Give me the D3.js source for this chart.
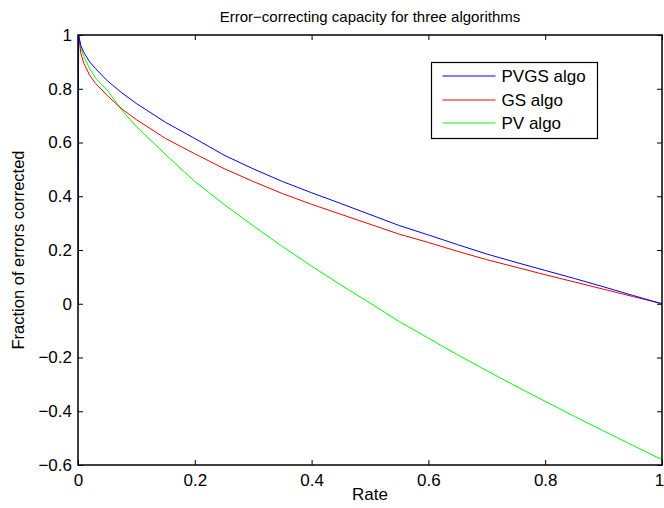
<!DOCTYPE html>
<html lang="en">
<head>
<meta charset="UTF-8">
<script src="https://d3js.org/d3.v7.min.js"></script>
<style>
body { margin: 0; background: #fff; }
svg { display: block; font-family: "Liberation Sans", Arial, sans-serif; }
</style>
</head>
<body>
<div id="chart"></div>
<script>
// rate values (x) and the three curves
const rates = [0, 0.001, 0.005, 0.01, 0.02, 0.03, 0.05, 0.075, 0.1, 0.15, 0.2, 0.25, 0.3, 0.35, 0.4,
               0.45, 0.5, 0.55, 0.6, 0.65, 0.7, 0.75, 0.8, 0.85, 0.9, 0.95, 1];
const pvgs = [0, 1, 0.96, 0.935, 0.9, 0.875, 0.83, 0.785, 0.745, 0.675, 0.615, 0.553, 0.502, 0.455, 0.413,
              0.373, 0.332, 0.291, 0.256, 0.22, 0.185, 0.154, 0.124, 0.094, 0.063, 0.031, 0];
const gs   = [0, 1, 0.93, 0.895, 0.85, 0.82, 0.775, 0.725, 0.685, 0.615, 0.558, 0.503, 0.455, 0.41, 0.37,
              0.333, 0.296, 0.259, 0.228, 0.195, 0.164, 0.136, 0.108, 0.081, 0.054, 0.027, 0];
const pv   = [0, 1, 0.95, 0.92, 0.875, 0.84, 0.795, 0.72, 0.66, 0.555, 0.455, 0.37, 0.29, 0.213, 0.14,
              0.07, 0.003, -0.066, -0.128, -0.19, -0.249, -0.307, -0.363, -0.419, -0.473, -0.527, -0.58];

const seriesNames = ["PVGS algo", "GS algo", "PV algo"];
const seriesColors = ["#0000ff", "#ff0000", "#00ff00"];
const xTicks = [0, 0.2, 0.4, 0.6, 0.8, 1];
const yTicks = [-0.6, -0.4, -0.2, 0, 0.2, 0.4, 0.6, 0.8, 1];

const width = 664, height = 508;
const margin = {top: 35, right: 2, bottom: 43, left: 78};

const svg = d3.select("#chart").append("svg")
  .attr("width", width)
  .attr("height", height);

const x = d3.scaleLinear().domain([0, 1]).range([margin.left, width - margin.right]);
const y = d3.scaleLinear().domain([-0.6, 1]).range([height - margin.bottom, margin.top]);

const fmt = d => d === 0 ? "0" : (d === 1 ? "1" : d3.format(".1f")(d).replace("-", "\u2212"));

// axes, ticks pointing inward
const xAxis = d3.axisBottom(x).tickValues(xTicks).tickSize(-5).tickPadding(9).tickFormat(fmt);
const yAxis = d3.axisLeft(y).tickValues(yTicks).tickSize(-5).tickPadding(6).tickFormat(fmt);

const gx = svg.append("g")
  .attr("transform", `translate(0,${y(-0.6)})`)
  .call(xAxis)
  .call(g => g.select(".domain").remove());
gx.selectAll(".tick text")
  .attr("font-size", 17)
  .attr("dx", d => d === 1 ? -3 : 0);

const gy = svg.append("g")
  .attr("transform", `translate(${x(0)},0)`)
  .call(yAxis)
  .call(g => g.select(".domain").remove());
gy.selectAll(".tick text").attr("font-size", 17);

svg.selectAll(".tick text").attr("fill", "#000").attr("font-family", "Liberation Sans, Arial, sans-serif");

// top and right ticks
svg.append("g")
  .attr("transform", `translate(0,${y(1)})`)
  .call(d3.axisTop(x).tickValues(xTicks).tickSize(-5).tickFormat(""))
  .call(g => g.select(".domain").remove());
svg.append("g")
  .attr("transform", `translate(${x(1)},0)`)
  .call(d3.axisRight(y).tickValues(yTicks).tickSize(-5).tickFormat(""))
  .call(g => g.select(".domain").remove());

svg.selectAll(".tick line").attr("stroke", "#000");

// the curves
const line = d3.line()
  .x((d, i) => x(rates[i]))
  .y(d => y(d));

svg.append("clipPath").attr("id", "clip")
  .append("rect")
  .attr("x", x(0)).attr("y", y(1) - 1)
  .attr("width", x(1) - x(0)).attr("height", y(-0.6) - y(1) + 2);

const curves = [pv, gs, pvgs];
const curveColors = [seriesColors[2], seriesColors[1], seriesColors[0]];
svg.append("g").attr("clip-path", "url(#clip)")
  .selectAll("path")
  .data(curves)
  .enter()
  .append("path")
  .attr("d", d => line(d))
  .attr("fill", "none")
  .attr("stroke", (d, i) => curveColors[i])
  .attr("stroke-width", 1);

// frame
svg.append("rect")
  .attr("x", x(0)).attr("y", y(1))
  .attr("width", x(1) - x(0)).attr("height", y(-0.6) - y(1))
  .attr("fill", "none")
  .attr("stroke", "#000")
  .attr("stroke-width", 1.5);

// legend
const legend = svg.append("g").attr("transform", "translate(431.5,62.5)");
legend.append("rect")
  .attr("width", 166).attr("height", 76)
  .attr("fill", "#fff")
  .attr("stroke", "#000")
  .attr("stroke-width", 1.2);

seriesNames.forEach((name, i) => {
  const ly = [13.5, 37.5, 60.5][i];
  legend.append("line")
    .attr("x1", 11).attr("x2", 64)
    .attr("y1", ly).attr("y2", ly)
    .attr("stroke", seriesColors[i])
    .attr("stroke-width", 1);
  legend.append("text")
    .attr("x", 70).attr("y", ly + 6)
    .attr("font-size", 17)
    .text(name);
});

// title and axis labels
svg.append("text")
  .attr("x", (x(0) + x(1)) / 2).attr("y", 22)
  .attr("text-anchor", "middle")
  .attr("font-size", 15)
  .text("Error\u2212correcting capacity for three algorithms");

svg.append("text")
  .attr("x", (x(0) + x(1)) / 2).attr("y", 500)
  .attr("text-anchor", "middle")
  .attr("font-size", 17)
  .text("Rate");

svg.append("text")
  .attr("transform", `translate(24,${(y(1) + y(-0.6)) / 2}) rotate(-90)`)
  .attr("text-anchor", "middle")
  .attr("font-size", 16.5)
  .text("Fraction of errors corrected");
</script>
</body>
</html>
